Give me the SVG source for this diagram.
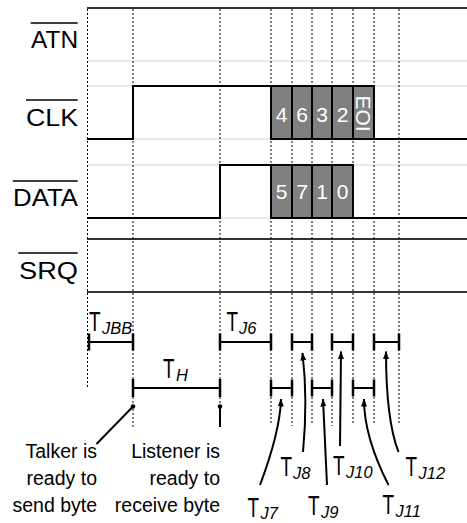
<svg xmlns="http://www.w3.org/2000/svg" width="467" height="523" viewBox="0 0 467 523">
<defs>
<marker id="ah" markerWidth="8" markerHeight="6" refX="7.5" refY="3" orient="auto" markerUnits="userSpaceOnUse">
<path d="M0,0 L8,3 L0,6 z" fill="#000"/>
</marker>
<style>
text{font-family:"Liberation Sans",Arial,sans-serif;fill:#000}
.lbl{font-size:24px;text-anchor:end}
.ov{stroke:#000;stroke-width:1.5}
.grid{stroke:#e2e2e2;stroke-width:1.5}
.rail{stroke:#333;stroke-width:2}
.dot{stroke:#000;stroke-width:1;stroke-dasharray:2,2}
.sig{fill:none;stroke:#000;stroke-width:2}
.box{fill:#808080;stroke:#000;stroke-width:2}
.bit{font-size:21px;fill:#fff;text-anchor:middle}
.bar{fill:none;stroke:#000;stroke-width:2}
.tick{stroke:#000;stroke-width:2.5}
.T{font-size:27px}
.sub{font-size:16.5px;font-style:italic}
.note{font-size:19.5px;text-anchor:end}
.lead{fill:none;stroke:#000;stroke-width:2}
.arr{fill:none;stroke:#000;stroke-width:2;marker-end:url(#ah)}
</style>
</defs>

<g id="grid">
<line class="grid" x1="87.5" y1="61" x2="467" y2="61"/>
<line class="grid" x1="87.5" y1="86" x2="467" y2="86"/>
<line class="grid" x1="87.5" y1="139" x2="467" y2="139"/>
<line class="grid" x1="87.5" y1="165" x2="467" y2="165"/>
<line class="grid" x1="87.5" y1="218" x2="467" y2="218"/>
<line class="rail" x1="87" y1="8" x2="467" y2="8"/>
<line class="rail" x1="87" y1="239" x2="467" y2="239"/>
<line class="rail" x1="87" y1="292" x2="467" y2="292"/>
</g>

<g id="guides">
<line class="dot" x1="87.5" y1="9" x2="87.5" y2="388"/>
<line class="dot" x1="133" y1="9" x2="133" y2="427"/>
<line class="dot" x1="220" y1="9" x2="220" y2="406"/>
<line class="dot" x1="271" y1="9" x2="271" y2="424"/>
<line class="dot" x1="292" y1="9" x2="292" y2="426"/>
<line class="dot" x1="312" y1="9" x2="312" y2="424"/>
<line class="dot" x1="332" y1="9" x2="332" y2="426"/>
<line class="dot" x1="353" y1="9" x2="353" y2="424"/>
<line class="dot" x1="374" y1="9" x2="374" y2="424"/>
<line class="dot" x1="399" y1="9" x2="399" y2="424"/>
</g>

<g id="label-atn">
<text class="lbl" x="78" y="48" textLength="47" lengthAdjust="spacingAndGlyphs">ATN</text>
<line class="ov" x1="30.7" y1="23" x2="77.7" y2="23"/>
</g>
<g id="label-clk">
<text class="lbl" x="78" y="125.5" textLength="52" lengthAdjust="spacingAndGlyphs">CLK</text>
<line class="ov" x1="26" y1="100" x2="77.7" y2="100"/>
</g>
<g id="label-data">
<text class="lbl" x="78" y="206" textLength="65" lengthAdjust="spacingAndGlyphs">DATA</text>
<line class="ov" x1="12.7" y1="181" x2="77.7" y2="181"/>
</g>
<g id="label-srq">
<text class="lbl" x="78" y="278.5" textLength="59" lengthAdjust="spacingAndGlyphs">SRQ</text>
<line class="ov" x1="18.3" y1="253" x2="77.7" y2="253"/>
</g>

<g id="clk-signal">
<path class="sig" d="M87,139 H133 V86 H271"/>
<rect class="box" x="271" y="86" width="21" height="53"/>
<rect class="box" x="292" y="86" width="20" height="53"/>
<rect class="box" x="312" y="86" width="20" height="53"/>
<rect class="box" x="332" y="86" width="21" height="53"/>
<rect class="box" x="353" y="86" width="21" height="53"/>
<path class="sig" d="M374,139 H467"/>
<text class="bit" x="281.5" y="121.5">4</text>
<text class="bit" x="302" y="121.5">6</text>
<text class="bit" x="322" y="121.5">3</text>
<text class="bit" x="342.5" y="121.5">2</text>
<text class="bit" transform="translate(355.5,113.5) rotate(90)" x="0" y="0">EOI</text>
</g>

<g id="data-signal">
<path class="sig" d="M87,218 H220 V165 H271"/>
<rect class="box" x="271" y="165" width="21" height="53"/>
<rect class="box" x="292" y="165" width="20" height="53"/>
<rect class="box" x="312" y="165" width="20" height="53"/>
<rect class="box" x="332" y="165" width="21" height="53"/>
<path class="sig" d="M353,218 H467"/>
<text class="bit" x="281.5" y="199">5</text>
<text class="bit" x="302" y="199">7</text>
<text class="bit" x="322" y="199">1</text>
<text class="bit" x="342.5" y="199">0</text>
</g>

<g id="intervals">
<path class="bar" d="M89,342 H133 M220,342 H271 M292,342 H312 M332,342 H353 M374,342 H399"/>
<path class="tick" d="M89,333.5 V350.5 M133,333.5 V350.5 M220,333.5 V350.5 M271,333.5 V350.5 M292,333.5 V350.5 M312,333.5 V350.5 M332,333.5 V350.5 M353,333.5 V350.5 M374,333.5 V350.5 M399,333.5 V350.5"/>
<path class="bar" d="M133,388 H220 M271,388 H292 M312,388 H332 M353,388 H374"/>
<path class="tick" d="M133,379 V397 M220,379 V397 M271,379.5 V396.5 M292,379.5 V396.5 M312,379.5 V396.5 M332,379.5 V396.5 M353,379.5 V396.5 M374,379.5 V396.5"/>
</g>

<g id="t-jbb"><text class="T" transform="translate(89,331) scale(0.7,1)">T</text><text class="sub" x="102" y="333.5">JBB</text></g>
<g id="t-j6"><text class="T" transform="translate(226.5,331) scale(0.7,1)">T</text><text class="sub" x="239" y="333.5">J6</text></g>
<g id="t-h"><text class="T" transform="translate(163,378) scale(0.7,1)">T</text><text class="sub" x="176" y="380.5">H</text></g>
<g id="t-j7"><text class="T" transform="translate(247.5,516.5) scale(0.7,1)">T</text><text class="sub" x="260.5" y="519">J7</text></g>
<g id="t-j8"><text class="T" transform="translate(280.5,476) scale(0.7,1)">T</text><text class="sub" x="293" y="478.5">J8</text></g>
<g id="t-j9"><text class="T" transform="translate(308,515) scale(0.7,1)">T</text><text class="sub" x="321" y="517.5">J9</text></g>
<g id="t-j10"><text class="T" transform="translate(333,475) scale(0.7,1)">T</text><text class="sub" x="346" y="477.5">J10</text></g>
<g id="t-j11"><text class="T" transform="translate(382.5,514) scale(0.7,1)">T</text><text class="sub" x="395.5" y="516.5">J11</text></g>
<g id="t-j12"><text class="T" transform="translate(405.5,476) scale(0.7,1)">T</text><text class="sub" x="418.5" y="478.5">J12</text></g>

<g id="talker-note">
<text class="note" x="97" y="458">Talker is</text>
<text class="note" x="97" y="485">ready to</text>
<text class="note" x="97" y="512">send byte</text>
</g>
<g id="listener-note">
<text class="note" x="220" y="458">Listener is</text>
<text class="note" x="220" y="485">ready to</text>
<text class="note" x="220" y="512">receive byte</text>
</g>

<g id="connectors">
<circle cx="133" cy="406.5" r="2.3" fill="#000"/>
<circle cx="220" cy="406.5" r="2.3" fill="#000"/>
<path class="lead" d="M133,406.5 L96.5,444"/>
<path class="lead" d="M220,406.5 V427"/>
<path class="arr" d="M260,485 Q280,432 281,399"/>
<path class="arr" d="M303,452 Q308,400 302.5,353"/>
<path class="arr" d="M327,485 L323,399"/>
<path class="arr" d="M340,446 L341,351.5"/>
<path class="arr" d="M388.5,485 Q364,437 364,399"/>
<path class="arr" d="M398.5,452 Q386,420 386,351.5"/>
</g>
</svg>
